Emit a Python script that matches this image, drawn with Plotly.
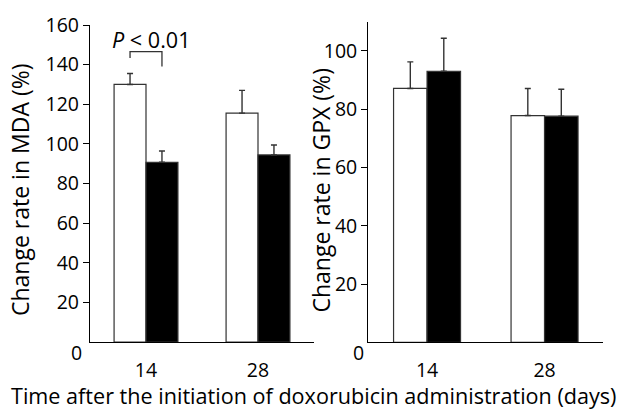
import plotly.graph_objects as go

days = ["14", "28"]
mda_ctrl = [130, 115.5]
mda_ctrl_err = [5.5, 11.5]
mda_trt = [90.7, 94.4]
mda_trt_err = [5.7, 5.0]
gpx_ctrl = [87.1, 77.8]
gpx_ctrl_err = [9.1, 9.3]
gpx_trt = [93.0, 77.6]
gpx_trt_err = [11.3, 9.2]
mda_ticks = [20, 40, 60, 80, 100, 120, 140, 160]
gpx_ticks = [20, 40, 60, 80, 100]

FONT = "Open Sans"
FS = 21.6      # x title / annotation text
YFS = 23       # y titles
TFS = 19.5     # tick labels
W, H = 621, 410


def px(x):
    return x / W


def py(y):
    return (H - y) / H


def f(size):
    return dict(family=FONT, size=size, color="black")


fig = go.Figure()


def add_bars(y_ctrl, e_ctrl, y_trt, e_trt, xa, ya):
    for vals, errs, color in [(y_ctrl, e_ctrl, "white"), (y_trt, e_trt, "black")]:
        fig.add_trace(go.Bar(
            x=days, y=vals, xaxis=xa, yaxis=ya,
            marker=dict(color=color, line=dict(color="#333333", width=1.2)),
            error_y=dict(type="data", array=errs, arrayminus=[0] * len(errs),
                         symmetric=False, color="#333333", thickness=1.4, width=3),
            showlegend=False,
        ))


add_bars(mda_ctrl, mda_ctrl_err, mda_trt, mda_trt_err, "x", "y")
add_bars(gpx_ctrl, gpx_ctrl_err, gpx_trt, gpx_trt_err, "x2", "y2")

axis_common = dict(showline=True, linecolor="black", linewidth=1.3, showgrid=False,
                   zeroline=False, automargin=False, tickfont=f(TFS))
xtick = dict(ticks="outside", ticklen=10, tickcolor="rgba(0,0,0,0)")
ytick = dict(ticks="outside", ticklen=6, tickwidth=1.3, tickcolor="black")

fig.update_layout(
    width=W, height=H,
    margin=dict(l=0, r=0, t=0, b=0, autoexpand=False),
    paper_bgcolor="white", plot_bgcolor="white",
    barmode="group", bargap=0.43, bargroupgap=0,
    xaxis=dict(domain=[px(90), px(314)], range=[-0.5, 1.5], anchor="y",
               **xtick, **axis_common),
    yaxis=dict(domain=[py(342), py(25)], range=[0, 160], anchor="x",
               tickvals=mda_ticks, **ytick, **axis_common),
    xaxis2=dict(domain=[px(368.3), px(603.3)], range=[-0.5, 1.5], anchor="y2",
                **xtick, **axis_common),
    yaxis2=dict(domain=[py(342.3), py(21.7)], range=[0, 110], anchor="x2",
                tickvals=gpx_ticks, **ytick, **axis_common),
    font=f(FS),
)

ann = []
# zero labels (placed below axis line)
ann.append(dict(x=0, y=0, xref="x domain", yref="y", text="0", showarrow=False,
                xanchor="right", yanchor="middle", xshift=-6, yshift=-10, font=f(TFS)))
ann.append(dict(x=0, y=0, xref="x2 domain", yref="y2", text="0", showarrow=False,
                xanchor="right", yanchor="middle", xshift=-2, yshift=-10, font=f(TFS)))
# axis titles
ann.append(dict(x=px(20), y=py(190), xref="paper", yref="paper",
                text="Change rate in MDA (%)", textangle=-90, showarrow=False,
                xanchor="center", yanchor="middle", font=f(YFS)))
ann.append(dict(x=px(320), y=py(190.5), xref="paper", yref="paper",
                text="Change rate in GPX (%)", textangle=-90, showarrow=False,
                xanchor="center", yanchor="middle", font=f(YFS)))
ann.append(dict(x=px(314), y=py(395), xref="paper", yref="paper",
                text="Time after the initiation of doxorubicin administration (days)",
                showarrow=False, xanchor="center", yanchor="middle", font=f(FS)))
# significance label
ann.append(dict(x=0, y=152.5, xref="x", yref="y", text="<i>P</i> < 0.01",
                showarrow=False, xanchor="center", yanchor="middle", xshift=5.5,
                font=f(FS)))
fig.update_layout(annotations=ann)

# bracket
off = (1 - 0.43) / 4
fig.add_shape(type="path",
              path=f"M {0 - off} 143.4 L {0 - off} 146.6 L {0 + off} 146.6 L {0 + off} 139",
              xref="x", yref="y", line=dict(color="#333333", width=1.3))

fig.write_html(
    "out.html",
    config={"displayModeBar": False},
    post_script="document.body.style.margin='0';document.body.style.overflow='hidden';",
)
